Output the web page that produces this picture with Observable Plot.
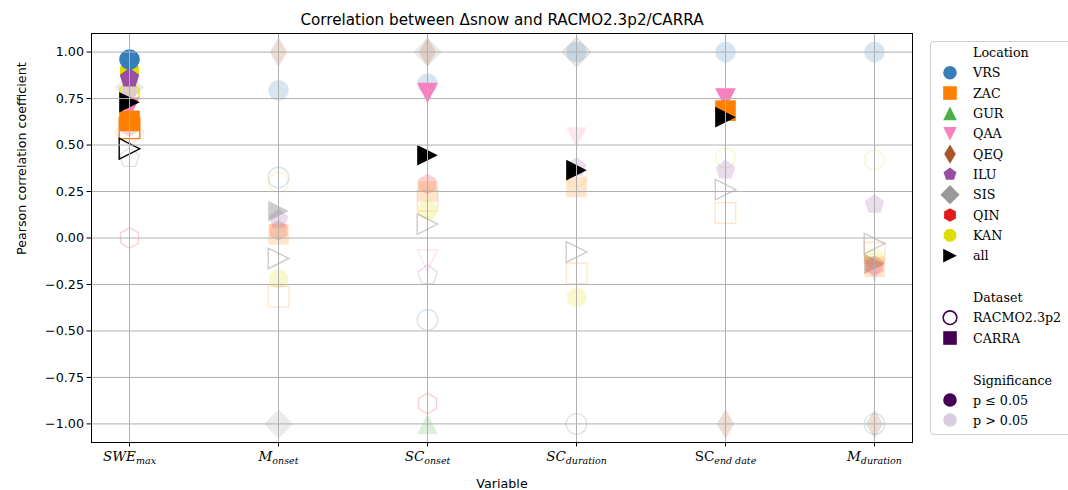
<!DOCTYPE html>
<html><head><meta charset="utf-8">
<script src="https://cdn.jsdelivr.net/npm/d3@7"></script>
<script src="https://cdn.jsdelivr.net/npm/@observablehq/plot@0.6"></script>
<style>
body{margin:0;background:#fff;}
#wrap{position:relative;width:1068px;height:490px;overflow:hidden;background:#fff;}
#legend{position:absolute;left:930px;top:41px;width:150px;height:392px;border:1px solid #cfcfcf;border-radius:4px;background:#fff;}
</style></head><body><div id="wrap"><div id="chart"></div><div id="legend"></div></div>
<script>
// ---------------- data ----------------
const variables = ["SWEmax", "Monset", "SConset", "SCduration", "SCend date", "Mduration"];
const varMain = ["SWE", "M", "SC", "SC", "SC", "M"];
const varSub = ["max", "onset", "onset", "duration", "end date", "duration"];
const locations = ["VRS", "ZAC", "GUR", "QAA", "QEQ", "ILU", "SIS", "QIN", "KAN", "all"];
const locationColors = ["#377eb8", "#ff7f00", "#4daf4a", "#f781bf", "#a65628", "#984ea3", "#999999", "#e41a1c", "#dede00", "#000000"];
const locationShapes = ["circle", "square", "triangleUp", "triangleDown", "thinDiamond", "pentagon", "diamond", "hexagon", "octagon", "triangleRight"];
const datasets = ["RACMO2.3p2", "CARRA"];
const yTicks = [-1, -0.75, -0.5, -0.25, 0, 0.25, 0.5, 0.75, 1];
const title = "Correlation between Δsnow and RACMO2.3p2/CARRA";
const xLabel = "Variable";
const yLabel = "Pearson correlation coefficient";

// rows: [location, dataset, Pearson r, significant (p <= 0.05)]
const sweMax = [
  ["VRS", "CARRA", 0.96, true], ["KAN", "CARRA", 0.90, true], ["ILU", "CARRA", 0.86, true],
  ["SIS", "CARRA", 0.81, false], ["QEQ", "CARRA", 0.79, false], ["KAN", "RACMO2.3p2", 0.78, true],
  ["all", "CARRA", 0.73, true], ["QAA", "CARRA", 0.70, true], ["ZAC", "CARRA", 0.63, true],
  ["ZAC", "RACMO2.3p2", 0.59, true], ["QIN", "CARRA", 0.60, false], ["SIS", "RACMO2.3p2", 0.57, false],
  ["all", "RACMO2.3p2", 0.48, true], ["ILU", "RACMO2.3p2", 0.43, false], ["QIN", "RACMO2.3p2", 0.00, false]
];
const mOnset = [
  ["QEQ", "CARRA", 1.00, false], ["VRS", "CARRA", 0.795, false], ["VRS", "RACMO2.3p2", 0.325, false],
  ["KAN", "RACMO2.3p2", 0.30, false], ["all", "CARRA", 0.145, false], ["ILU", "CARRA", 0.10, false],
  ["QIN", "CARRA", 0.04, false], ["ZAC", "CARRA", 0.02, false], ["all", "RACMO2.3p2", -0.11, false],
  ["KAN", "CARRA", -0.22, false], ["ZAC", "RACMO2.3p2", -0.315, false], ["SIS", "CARRA", -1.00, false]
];
const scOnset = [
  ["SIS", "CARRA", 1.00, false], ["QEQ", "CARRA", 1.00, false], ["VRS", "CARRA", 0.83, false],
  ["QAA", "CARRA", 0.78, true], ["all", "CARRA", 0.445, true], ["QIN", "CARRA", 0.29, false],
  ["ZAC", "CARRA", 0.25, false], ["ZAC", "RACMO2.3p2", 0.20, false], ["KAN", "CARRA", 0.15, false],
  ["all", "RACMO2.3p2", 0.075, false], ["QAA", "RACMO2.3p2", -0.12, false], ["ILU", "RACMO2.3p2", -0.20, false],
  ["VRS", "RACMO2.3p2", -0.44, false], ["QIN", "RACMO2.3p2", -0.89, false], ["GUR", "CARRA", -1.00, false]
];
const scDuration = [
  ["SIS", "CARRA", 1.00, false], ["VRS", "CARRA", 1.00, false], ["SIS", "RACMO2.3p2", 1.00, false],
  ["QAA", "CARRA", 0.54, false], ["ILU", "CARRA", 0.38, false], ["all", "CARRA", 0.365, true],
  ["KAN", "RACMO2.3p2", 0.33, false], ["ZAC", "CARRA", 0.275, false], ["all", "RACMO2.3p2", -0.075, false],
  ["ZAC", "RACMO2.3p2", -0.19, false], ["KAN", "CARRA", -0.32, false], ["VRS", "RACMO2.3p2", -1.00, false]
];
const scEndDate = [
  ["VRS", "CARRA", 1.00, false], ["QAA", "CARRA", 0.75, true], ["ZAC", "CARRA", 0.685, true],
  ["all", "CARRA", 0.65, true], ["KAN", "RACMO2.3p2", 0.43, false], ["ILU", "CARRA", 0.365, false],
  ["all", "RACMO2.3p2", 0.26, false], ["ZAC", "RACMO2.3p2", 0.135, false], ["QEQ", "CARRA", -1.00, false]
];
const mDuration = [
  ["VRS", "CARRA", 1.00, false], ["KAN", "RACMO2.3p2", 0.42, false], ["ILU", "CARRA", 0.18, false],
  ["all", "RACMO2.3p2", -0.03, false], ["ZAC", "RACMO2.3p2", -0.08, false], ["KAN", "CARRA", -0.11, false],
  ["all", "CARRA", -0.14, false], ["ZAC", "CARRA", -0.155, false], ["QIN", "CARRA", -0.15, false],
  ["QAA", "CARRA", -0.18, false], ["QEQ", "CARRA", -1.00, false], ["VRS", "RACMO2.3p2", -1.00, false]
];
const byVariable = [sweMax, mOnset, scOnset, scDuration, scEndDate, mDuration];

// ---------------- symbols (matplotlib-like markers) ----------------
function polygon(n, rot) {
  return {draw(ctx, size) {
    const R = Math.sqrt(size / Math.PI);
    for (let k = 0; k < n; k++) {
      const a = rot + k * 2 * Math.PI / n;
      const x = R * Math.sin(a), y = -R * Math.cos(a);
      if (k) ctx.lineTo(x, y); else ctx.moveTo(x, y);
    }
    ctx.closePath();
  }};
}
function pathSym(pts) {
  return {draw(ctx, size) {
    const R = Math.sqrt(size / Math.PI);
    pts.forEach(([x, y], k) => k ? ctx.lineTo(x * R, y * R) : ctx.moveTo(x * R, y * R));
    ctx.closePath();
  }};
}
const S2 = Math.SQRT2;
const symbolDefs = {
  circle: {draw(ctx, size) { const R = Math.sqrt(size / Math.PI); ctx.moveTo(R, 0); ctx.arc(0, 0, R, 0, 2 * Math.PI); }},
  square: pathSym([[-1, -1], [1, -1], [1, 1], [-1, 1]]),
  triangleUp: pathSym([[0, -1], [1, 1], [-1, 1]]),
  triangleDown: pathSym([[0, 1], [-1, -1], [1, -1]]),
  triangleRight: pathSym([[1, 0], [-1, -1], [-1, 1]]),
  diamond: pathSym([[0, -S2], [S2, 0], [0, S2], [-S2, 0]]),
  thinDiamond: pathSym([[0, -S2], [0.6 * S2, 0], [0, S2], [-0.6 * S2, 0]]),
  pentagon: polygon(5, 0),
  hexagon: polygon(6, 0),
  octagon: polygon(8, Math.PI / 8)
};

// ---------------- table ----------------
const rows = variables.flatMap((v, i) => byVariable[i].map(([loc, ds, r, sig]) => ({variable: v, location: loc, dataset: ds, r, sig})));
const rank = d => !d.sig ? 0 : (d.location === "all" ? 100 : 10 + (locations.length - locations.indexOf(d.location)));
const ordered = rows.map((d, i) => ({d, i})).sort((a, b) => rank(a.d) - rank(b.d) || a.i - b.i).map(e => e.d);

const R = 10.3;
const FADE = 0.2;
const dotMarks = ordered.map(d => {
  const li = locations.indexOf(d.location);
  const col = locationColors[li];
  const sym = symbolDefs[locationShapes[li]];
  const op = d.sig ? 1 : FADE;
  const filled = d.dataset === "CARRA";
  return Plot.dot([d], {
    x: "variable", y: "r", r: R, symbol: sym,
    fill: filled ? col : "none", fillOpacity: op,
    stroke: filled ? "none" : col, strokeOpacity: op, strokeWidth: filled ? 0 : 1.4
  });
});

const W = 1068, H = 490;
const chart = Plot.plot({
  width: W, height: H,
  marginLeft: 91, marginRight: 156, marginTop: 33, marginBottom: 48,
  style: {fontFamily: "DejaVu Sans, sans-serif", fontSize: "12.7px", background: "white", color: "black"},
  x: {type: "point", domain: variables, padding: 0.25},
  y: {domain: [-1.1, 1.1]},
  marks: [
    ...dotMarks,
    Plot.gridX(variables, {stroke: "#b0b0b0", strokeOpacity: 1, strokeWidth: 1}),
    Plot.gridY(yTicks, {stroke: "#b0b0b0", strokeOpacity: 1, strokeWidth: 1}),
    Plot.frame({stroke: "black", strokeWidth: 1}),
    Plot.axisY(yTicks, {tickFormat: d3.format(".2f"), tickSize: 4.5, tickPadding: 3, label: null, fontSize: 12.7}),
    Plot.axisX(variables, {tickSize: 4.5, tickPadding: 4, label: null, fontSize: 13.5}),
    Plot.text([title], {frameAnchor: "top", dy: -9, lineAnchor: "bottom", fontSize: 15.2}),
    Plot.text([xLabel], {frameAnchor: "bottom", dy: 45, lineAnchor: "bottom", fontSize: 12.7}),
    Plot.text([yLabel], {frameAnchor: "left", dx: -66, dy: 17, rotate: -90, lineAnchor: "bottom", fontSize: 12.7})
  ]
});
document.getElementById("chart").appendChild(chart);

// math-style tick labels with subscripts
chart.querySelectorAll('g[aria-label="x-axis tick label"] text').forEach(t => {
  const i = variables.indexOf(t.textContent);
  if (i < 0) return;
  t.textContent = "";
  t.setAttribute("font-family", "DejaVu Serif, serif");
  const a = document.createElementNS("http://www.w3.org/2000/svg", "tspan");
  a.textContent = varMain[i];
  a.setAttribute("font-style", varSub[i] === "end date" ? "normal" : "italic");
  const b = document.createElementNS("http://www.w3.org/2000/svg", "tspan");
  b.textContent = varSub[i];
  b.setAttribute("font-style", "italic");
  b.setAttribute("font-size", "9.5px");
  b.setAttribute("dy", "3.5");
  t.appendChild(a); t.appendChild(b);
});

// ---------------- legend ----------------
const leg = d3.select("#legend").append("svg").attr("width", 150).attr("height", 392)
  .style("font-family", "DejaVu Serif, serif").style("font-size", "12.7px");
const mx = 19, tx = 42, top0 = 41;
const symPath = (shape, size) => d3.symbol(symbolDefs[shape], size)();
const LS = Math.PI * 6.8 * 6.8;
function heading(y, txt) { leg.append("text").attr("x", tx).attr("y", y - top0 + 4.5).text(txt); }
function entry(y, shape, fill, stroke, txt) {
  leg.append("path").attr("d", symPath(shape, LS)).attr("transform", `translate(${mx},${y - top0})`)
    .attr("fill", fill).attr("stroke", stroke).attr("stroke-width", stroke === "none" ? 0 : 1.6);
  leg.append("text").attr("x", tx).attr("y", y - top0 + 4.5).text(txt);
}
heading(51.7, "Location");
locations.forEach((l, i) => entry(71.7 + 20.33 * i, locationShapes[i], locationColors[i], "none", l));
heading(296.7, "Dataset");
entry(316.7, "circle", "none", "#440154", datasets[0]);
entry(337, "square", "#440154", "none", datasets[1]);
heading(379, "Significance");
entry(399, "circle", "#440154", "none", "p ≤ 0.05");
entry(419, "circle", "#dacce0", "none", "p > 0.05");
</script></body></html>
